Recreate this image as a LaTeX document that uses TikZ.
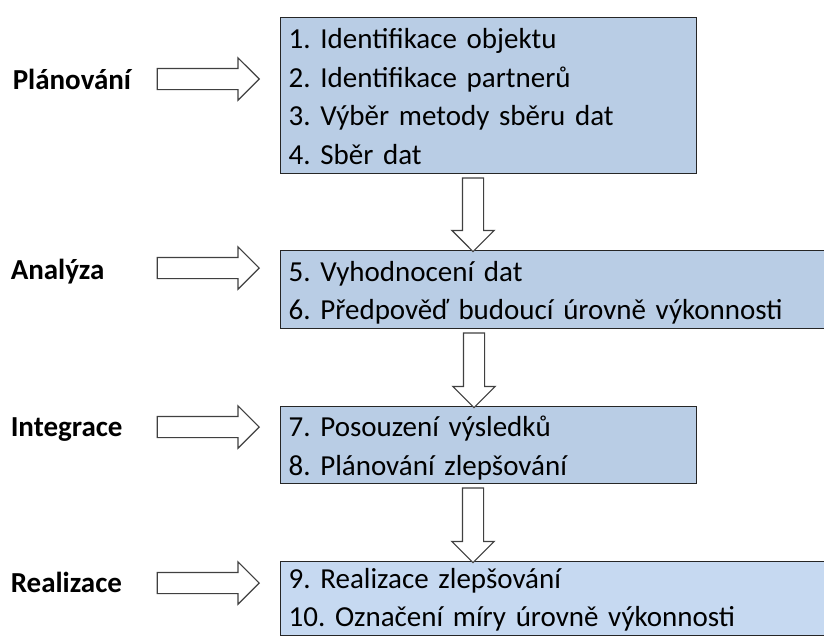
\documentclass[tikz,border=0pt]{standalone}
\usepackage{fontspec}
\setmainfont{Carlito}
\usetikzlibrary{calc, positioning, shapes.arrows}
\definecolor{boxblue}{RGB}{185,205,229}
\definecolor{boxlight}{RGB}{198,217,241}
\definecolor{arrowgray}{RGB}{64,64,64}
\newcommand{\linestrut}{\rule[-8.5pt]{0pt}{38.5pt}}
\frenchspacing

\begin{document}
\begin{tikzpicture}[x=1pt, y=-1pt,
  every node/.style={font=\fontsize{29}{38.5}\selectfont},
  stepbox/.style={draw=black!85, line width=1.3pt, fill=boxblue, anchor=north west,
    align=left, inner xsep=8pt, inner ysep=0pt},
  sidearrow/.style={single arrow, draw=arrowgray, fill=white, line width=1.2pt,
    inner sep=10pt, minimum width=41pt, single arrow head extend=10.5pt,
    minimum height=102pt, anchor=tip},
  downarrow/.style={sidearrow, shape border rotate=270, anchor=tail},
  phaselabel/.style={font=\fontsize{29}{38.5}\selectfont\bfseries, inner sep=0pt, anchor=base west}
]
\useasboundingbox (0,0) rectangle (824,635);
\clip (0,0) rectangle (824,635);

 % boxes
 \node[stepbox, text width=400pt, minimum height=156pt] (planbox) at (280,17)
   {\linestrut 1. Identifikace objektu\\ \linestrut 2. Identifikace partnerů\\
    \linestrut 3. Výběr metody sběru dat\\ \linestrut 4. Sběr dat};
 \node[stepbox, text width=560pt, minimum height=78pt] (analbox) at (280,250)
   {\linestrut 5. Vyhodnocení dat\\ \linestrut 6. Předpověď budoucí úrovně výkonnosti};
 \node[stepbox, text width=400pt, minimum height=77pt] (integbox) at (280,406)
   {\linestrut 7. Posouzení výsledků\\ \linestrut 8. Plánování zlepšování};
 \node[stepbox, fill=boxlight, text width=560pt, minimum height=74pt] (realbox) at (280,561)
   {\rule[-8.5pt]{0pt}{35pt}9. Realizace zlepšování\\ \linestrut 10. Označení míry úrovně výkonnosti};

 % arrows from the phases
 \node[sidearrow] (planarr) at ($(planbox.north west)+(-20,62)$) {};
 \node[sidearrow] (analarr) at ($(analbox.north west)+(-20,18)$) {};
 \node[sidearrow] (integarr) at ($(integbox.north west)+(-20,21)$) {};
 \node[sidearrow] (realarr) at ($(realbox.north west)+(-20,22)$) {};

 \node[phaselabel] (planlab) at ($(planarr.tail)+(-144,10)$) {Plánování};
 \node[phaselabel] (anallab) at ($(analarr.tail)+(-146,11)$) {Analýza};
 \node[phaselabel] (integlab) at ($(integarr.tail)+(-146,9)$) {Integrace};
 \node[phaselabel] (reallab) at ($(realarr.tail)+(-146,9)$) {Realizace};

 % arrows between the boxes
 \path let \p1=(planbox.south), \p2=(analbox.north) in
   node[downarrow, minimum height={\y1-(\y2)-2pt}] (planarrdown) at ($(planbox.south west)+(193,3)$) {};
 \path let \p1=(analbox.south), \p2=(integbox.north) in
   node[downarrow, minimum height={\y1-(\y2)-2pt}] (analarrdown) at ($(analbox.south west)+(194,3)$) {};
 \path let \p1=(integbox.south), \p2=(realbox.north) in
   node[downarrow, minimum height={\y1-(\y2)-2pt}] (integarrdown) at ($(integbox.south west)+(193,3)$) {};
\end{tikzpicture}
\end{document}
